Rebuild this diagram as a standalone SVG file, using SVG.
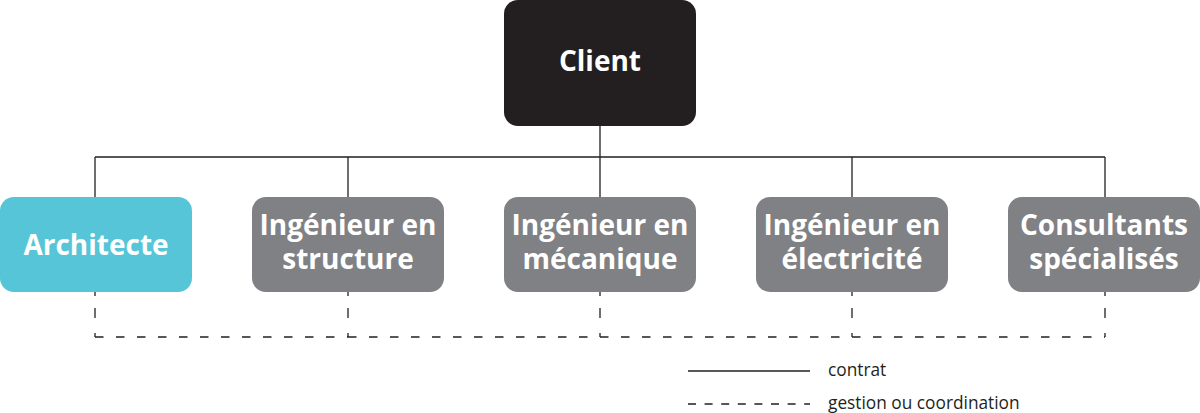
<svg xmlns="http://www.w3.org/2000/svg" width="1200" height="413" viewBox="0 0 1200 413">
<style>
.box{stroke:none}
.client{fill:#231f20}
.arch{fill:#55c5d7}
.eng{fill:#808184}
.lbl{font-family:"Open Sans","Noto Sans","Liberation Sans",sans-serif;font-weight:700;font-size:28px;fill:#ffffff;text-anchor:middle}
.solid{stroke:#231f20;stroke-width:1.3;fill:none}
.dash{stroke:#231f20;stroke-width:1.3;fill:none;stroke-dasharray:8.5 12.5}
.vdash{stroke:#231f20;stroke-width:1.3;fill:none;stroke-dasharray:4 12 10 15 4}
.leg{font-family:"Open Sans","Noto Sans","Liberation Sans",sans-serif;font-size:17.3px;fill:#231f20}
</style>
<rect width="1200" height="413" fill="#ffffff"/>
<g id="connectors">
<path class="solid" d="M600 126V157M95 157H1105M95 157V197M348 157V197M600 157V197M852 157V197M1105 157V197"/>
<path class="vdash" d="M95 292V337"/>
<path class="vdash" d="M348 292V337"/>
<path class="vdash" d="M600 292V337"/>
<path class="vdash" d="M852 292V337"/>
<path class="vdash" d="M1105 292V337"/>
<path class="dash" d="M95 337H348"/>
<path class="dash" d="M348 337H600"/>
<path class="dash" d="M600 337H852"/>
<path class="dash" d="M852 337H1105"/>
</g>
<g id="client">
<rect class="box client" x="504" y="0" width="192" height="126" rx="14"/>
<text class="lbl" x="600" y="71">Client</text>
</g>
<g id="architecte">
<rect class="box arch" x="0" y="197" width="192" height="95" rx="14"/>
<text class="lbl" x="96" y="255">Architecte</text>
</g>
<g id="ing-structure">
<rect class="box eng" x="252" y="197" width="192" height="95" rx="14"/>
<text class="lbl" x="348" y="235">Ingénieur en<tspan x="348" dy="34">structure</tspan></text>
</g>
<g id="ing-mecanique">
<rect class="box eng" x="504" y="197" width="192" height="95" rx="14"/>
<text class="lbl" x="600" y="235">Ingénieur en<tspan x="600" dy="34">mécanique</tspan></text>
</g>
<g id="ing-electricite">
<rect class="box eng" x="756" y="197" width="192" height="95" rx="14"/>
<text class="lbl" x="852" y="235">Ingénieur en<tspan x="852" dy="34">électricité</tspan></text>
</g>
<g id="consultants">
<rect class="box eng" x="1008" y="197" width="192" height="95" rx="14"/>
<text class="lbl" x="1104" y="235">Consultants<tspan x="1104" dy="34">spécialisés</tspan></text>
</g>
<g id="legend">
<path class="solid" d="M688 371H810"/>
<text class="leg" x="828" y="376">contrat</text>
<path class="solid" d="M688 404H810" style="stroke-dasharray:8 8.6"/>
<text class="leg" x="828" y="409">gestion ou coordination</text>
</g>
</svg>
